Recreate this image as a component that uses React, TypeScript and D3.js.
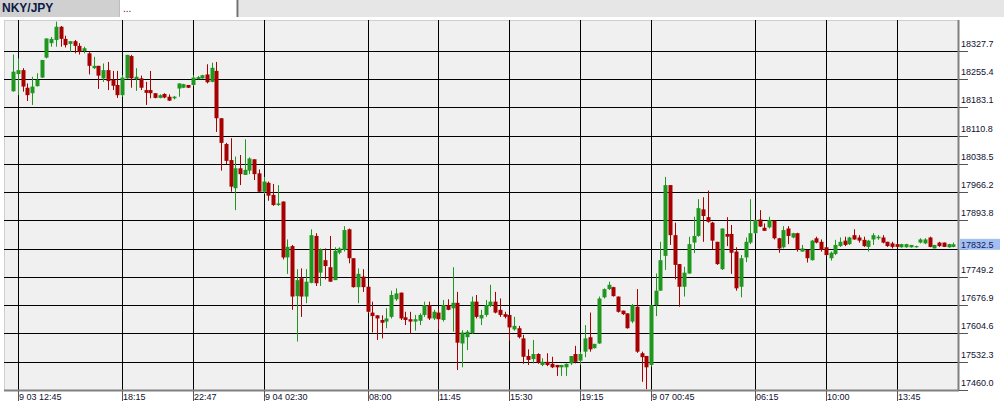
import React from "react";
import * as d3 from "d3";

const symbol = "NKY/JPY";

const open = [18224,18268,18278,18233,18219,18237,18259,18310,18347,18355,18389,18358,18345,18352,18340,18327,18321,18283,18289,18257,18278,18253,18240,18214,18257,18314,18255,18257,18227,18227,18219,18207,18217,18210,18206,18231,18233,18240,18240,18255,18257,18267,18248,18276,18155,18089,18048,17976,18027,18010,18021,18050,18014,17967,17990,17959,17933,17942,17799,17828,17700,17746,17699,17734,17854,17760,17792,17774,17741,17811,17818,17871,17797,17723,17750,17724,17658,17651,17639,17635,17647,17692,17709,17646,17641,17635,17637,17652,17677,17643,17658,17639,17677,17669,17683,17579,17595,17605,17686,17643,17652,17675,17686,17665,17654,17652,17615,17618,17592,17547,17539,17552,17524,17532,17527,17524,17518,17518,17528,17552,17535,17558,17595,17567,17579,17697,17718,17723,17699,17663,17656,17635,17673,17554,17547,17524,17677,17714,17803,17984,17856,17782,17724,17758,17837,17854,17922,17902,17888,17839,17769,17859,17859,17814,17724,17799,17837,17861,17896,17875,17876,17893,17848,17825,17873,17850,17861,17814,17818,17792,17848,17839,17825,17797,17808,17828,17842,17833,17856,17850,17844,17826,17845,17848,17850,17839,17835,17833,17825,17825,17825,17825,17837,17835,17850,17822,17837,17837,17825,17826];
const high = [18318,18308,18283,18244,18261,18270,18304,18359,18363,18402,18391,18366,18352,18355,18347,18338,18324,18312,18289,18295,18299,18276,18276,18265,18317,18317,18283,18264,18248,18276,18219,18216,18219,18216,18212,18244,18243,18240,18265,18263,18266,18293,18297,18299,18155,18092,18104,18057,18061,18101,18055,18050,18024,18005,17993,17987,17984,17942,17845,17831,17769,17771,17769,17871,17861,17822,17822,17854,17825,17825,17879,17873,17797,17771,17769,17724,17686,17651,17651,17669,17714,17720,17709,17660,17660,17652,17656,17686,17686,17665,17669,17690,17692,17774,17711,17613,17613,17699,17703,17665,17690,17729,17711,17694,17660,17652,17647,17624,17601,17564,17588,17554,17541,17554,17545,17524,17524,17528,17547,17573,17558,17626,17658,17578,17699,17720,17737,17724,17699,17663,17656,17680,17718,17558,17547,17677,17758,17839,18005,17984,17888,17782,17775,17852,17903,17948,17953,17970,17890,17839,17873,17902,17882,17825,17805,17850,17948,17895,17920,17886,17903,17893,17849,17879,17879,17862,17862,17831,17818,17844,17852,17845,17826,17814,17844,17850,17852,17852,17871,17856,17852,17844,17861,17856,17856,17839,17839,17835,17834,17834,17831,17829,17848,17848,17852,17831,17839,17837,17834,17837];
const low = [18223,18214,18223,18199,18189,18236,18258,18308,18338,18338,18338,18336,18325,18321,18318,18321,18267,18281,18230,18248,18227,18227,18207,18210,18256,18233,18225,18227,18189,18206,18206,18206,18206,18199,18203,18210,18232,18232,18238,18254,18256,18244,18247,18120,18021,18038,17967,17920,17984,18010,18012,17997,17967,17961,17944,17931,17931,17794,17757,17665,17584,17647,17682,17733,17726,17726,17743,17737,17741,17807,17814,17784,17722,17682,17711,17656,17607,17588,17592,17618,17643,17688,17639,17626,17605,17612,17626,17647,17639,17639,17615,17635,17664,17609,17511,17518,17562,17603,17643,17626,17647,17672,17656,17647,17643,17586,17612,17592,17527,17524,17528,17527,17521,17521,17516,17496,17496,17496,17524,17528,17524,17544,17558,17566,17578,17694,17716,17699,17658,17652,17617,17631,17555,17481,17462,17520,17649,17714,17767,17831,17743,17673,17699,17757,17810,17852,17839,17888,17820,17780,17767,17828,17757,17714,17697,17787,17833,17860,17877,17867,17873,17845,17811,17822,17833,17848,17814,17814,17786,17791,17835,17814,17803,17791,17805,17826,17828,17831,17844,17837,17826,17814,17831,17844,17835,17826,17822,17825,17824,17824,17824,17824,17835,17833,17825,17822,17826,17826,17824,17825];
const close = [18274,18278,18236,18214,18236,18253,18304,18359,18358,18389,18358,18342,18352,18340,18325,18334,18289,18289,18264,18278,18250,18238,18214,18259,18317,18257,18261,18233,18220,18219,18207,18214,18208,18200,18210,18244,18242,18233,18259,18260,18265,18247,18284,18155,18092,18046,17980,18027,18012,18023,18052,18012,17967,17993,17957,17933,17937,17799,17826,17699,17741,17699,17737,17856,17733,17820,17777,17737,17816,17822,17869,17797,17723,17757,17723,17660,17649,17643,17632,17643,17703,17707,17643,17639,17635,17641,17652,17677,17643,17660,17641,17677,17665,17683,17581,17607,17609,17686,17647,17652,17677,17686,17658,17652,17647,17620,17624,17595,17545,17537,17552,17530,17532,17524,17518,17518,17524,17527,17547,17532,17552,17592,17564,17578,17694,17718,17729,17700,17660,17654,17618,17677,17558,17544,17518,17677,17714,17792,17984,17856,17780,17724,17760,17833,17854,17925,17905,17890,17842,17782,17873,17852,17811,17720,17797,17839,17861,17895,17878,17867,17895,17848,17822,17869,17854,17861,17818,17822,17797,17842,17837,17818,17805,17811,17831,17839,17831,17850,17845,17842,17828,17842,17856,17852,17837,17828,17826,17826,17833,17833,17831,17828,17845,17845,17826,17831,17828,17826,17833,17832.5];

const priceTicks = [17460.0,17532.3,17604.6,17676.9,17749.2,17821.5,17893.8,17966.2,18038.5,18110.8,18183.1,18255.4,18327.7];
const priceTickLabels = ["17460.0","17532.3","17604.6","17676.9","17749.2","","17893.8","17966.2","18038.5","18110.8","18183.1","18255.4","18327.7"];
const timeTickIndex = [1,23,38,53,75,90,105,120,135,157,172,187];
const timeTickLabels = ["9 03 12:45","18:15","22:47","9 04 02:30","08:00","11:45","15:30","19:15","9 07 00:45","06:15","10:00","13:45"];
const lastPrice = 17832.5;
const lastPriceLabel = "17832.5";

const W = 1004, H = 414;
const PL = 4, PT = 20, PR = 958, PB = 390;
const GREEN = "#1f971f";
const RED = "#a60000";
const FONT = "'Liberation Sans', Arial, sans-serif";
const TXT = "#101030";

export default function App() {
  const x = d3.scaleLinear().domain([0, open.length - 1]).range([13.3, 13.3 + 4.724 * (open.length - 1)]);
  const y = d3.scaleLinear().domain([17460, 18327.7]).range([PB, 50.7]);
  const px = (v: number) => Math.round(x(v)) + 0.5;
  const py = (v: number) => Math.round(y(v)) + 0.5;

  return (
    <svg width={W} height={H} style={{ position: "absolute", left: 0, top: 0, background: "#fff" }}>
      {/* header tabs */}
      <rect x={0} y={0} width={119} height={17} fill="#d0d0d0" />
      <line x1={119.5} y1={0} x2={119.5} y2={17} stroke="#bdbdbd" />
      <text x={2} y={12} fontFamily={FONT} fontWeight="bold" fontSize={12} fill="#0c1a48">{symbol}</text>
      <rect x={120} y={0} width={117} height={17} fill="#ffffff" />
      <text x={123} y={12} fontFamily={FONT} fontSize={10} fill="#800000">...</text>
      <line x1={237.5} y1={0} x2={237.5} y2={17} stroke="#707070" strokeWidth={2} />
      <rect x={239} y={0} width={W - 239} height={17} fill="#e6e6e6" />

      {/* plot background */}
      <rect x={PL + 0.5} y={PT + 0.5} width={PR - PL} height={PB - PT} fill="#f0f0f0" stroke="#cfcfcf" />

      {/* horizontal grid */}
      {priceTicks.map((t, k) => (
        <line key={"hg" + k} x1={PL} x2={PR} y1={py(t)} y2={py(t)} stroke="#000" strokeWidth={1} />
      ))}
      {/* vertical grid */}
      {timeTickIndex.map((t, k) => (
        <line key={"vg" + k} x1={px(t)} x2={px(t)} y1={PT} y2={PB} stroke="#000" strokeWidth={1} />
      ))}

      {/* candles */}
      {open.map((o, i) => {
        const c = close[i];
        const up = c >= o;
        const col = up ? GREEN : RED;
        const cx = Math.round(x(i));
        const yTop = y(Math.max(o, c));
        const yBot = y(Math.min(o, c));
        const bh = Math.max(1, yBot - yTop);
        return (
          <g key={"c" + i}>
            <line x1={cx + 0.5} x2={cx + 0.5} y1={y(high[i])} y2={y(low[i])} stroke={col} strokeWidth={1} />
            <rect x={cx - 1.5} y={yTop} width={4} height={bh} fill={col} />
          </g>
        );
      })}

      {/* axes lines */}
      <line x1={PL} x2={PR + 1} y1={PB + 0.5} y2={PB + 0.5} stroke="#808080" strokeWidth={2} />
      <line x1={PR + 0.5} x2={PR + 0.5} y1={PT} y2={PB + 1} stroke="#808080" strokeWidth={2} />

      {/* right axis ticks and labels */}
      {priceTicks.map((t, k) => (
        <g key={"yt" + k}>
          <line x1={PR + 1} x2={PR + 10} y1={py(t)} y2={py(t)} stroke="#555" />
          {priceTickLabels[k] && (
            <text x={961} y={py(t) - 4.5} fontFamily={FONT} fontSize={9} fill={TXT}>{priceTickLabels[k]}</text>
          )}
        </g>
      ))}
      {/* last price marker */}
      <rect x={959} y={y(lastPrice) - 5.5} width={41} height={11} fill="#a3bff0" />
      <text x={961} y={y(lastPrice) + 3.3} fontFamily={FONT} fontSize={9} fill="#0c1a60">{lastPriceLabel}</text>

      {/* bottom axis ticks and labels */}
      {timeTickIndex.map((t, k) => (
        <g key={"xt" + k}>
          <line x1={px(t)} x2={px(t)} y1={PB + 1} y2={PB + 11} stroke="#555" />
          <text x={px(t) + 0.5} y={400} fontFamily={FONT} fontSize={9} fill={TXT}>{timeTickLabels[k]}</text>
        </g>
      ))}
    </svg>
  );
}
